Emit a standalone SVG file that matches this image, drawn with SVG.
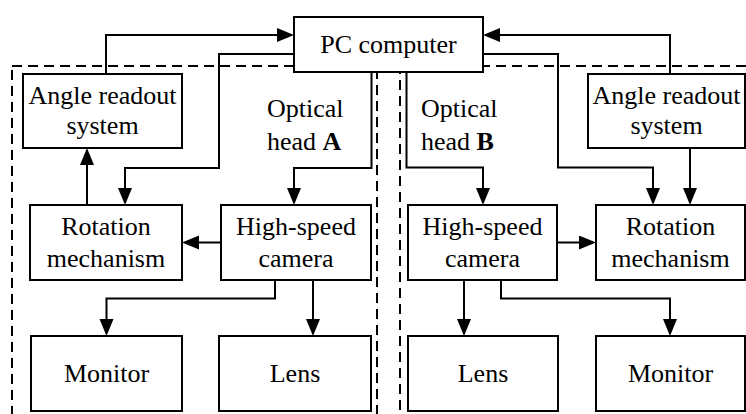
<svg xmlns="http://www.w3.org/2000/svg" width="746" height="414" viewBox="0 0 746 414">
<style>
.bg{fill:#fff}
.dash{fill:none;stroke:#000;stroke-width:2;stroke-dasharray:10 6}
.box{fill:#fff;stroke:#000;stroke-width:2}
.ln{fill:none;stroke:#000;stroke-width:2;marker-end:url(#ah)}
text{font-family:'Liberation Serif',serif;font-size:26px;fill:#000}
.c{text-anchor:middle}
</style>
<defs>
<marker id="ah" markerUnits="userSpaceOnUse" markerWidth="18" markerHeight="15" refX="14" refY="7" orient="auto">
<path d="M0,0 L17,7 L0,14 z" fill="#000"/>
</marker>
</defs>
<rect class="bg" x="0" y="0" width="746" height="414"/>
<g id="groups">
<rect class="dash" x="12" y="66" width="365" height="370"/>
<rect class="dash" x="400" y="66" width="370" height="370"/>
</g>
<g id="connectors">
<path class="ln" d="M106,74 V35 H291"/>
<path class="ln" d="M294,54 H219 V168 H125 V202"/>
<path class="ln" d="M371.5,72 V168 H294 V202"/>
<path class="ln" d="M87,205 V151"/>
<path class="ln" d="M221,242.5 H185"/>
<path class="ln" d="M275,280 V298.5 H106.5 V333"/>
<path class="ln" d="M313,280 V333"/>
<path class="ln" d="M670,74 V35 H486"/>
<path class="ln" d="M483,54 H558 V167.5 H653 V202"/>
<path class="ln" d="M406.5,72 V167.5 H483 V202"/>
<path class="ln" d="M690,148 V202"/>
<path class="ln" d="M557,242.5 H593"/>
<path class="ln" d="M464,280 V333"/>
<path class="ln" d="M501,280 V298.5 H670 V333"/>
</g>
<g font-family="Liberation Serif, serif" font-size="26">
<g id="pc"><rect class="box" x="294" y="17" width="189" height="55"/><text class="c" x="388.5" y="53">PC computer</text></g>
<g id="angleA"><rect class="box" x="23" y="74" width="159" height="74"/><text class="c" x="102.5" y="104">Angle readout</text><text class="c" x="102.5" y="134">system</text></g>
<g id="rotA"><rect class="box" x="30" y="205" width="152" height="75"/><text class="c" x="106" y="235">Rotation</text><text class="c" x="106" y="267">mechanism</text></g>
<g id="camA"><rect class="box" x="221" y="205" width="150" height="75"/><text class="c" x="296" y="235">High-speed</text><text class="c" x="296" y="267">camera</text></g>
<g id="monA"><rect class="box" x="31" y="336" width="151" height="75"/><text class="c" x="106.5" y="382">Monitor</text></g>
<g id="lensA"><rect class="box" x="219" y="336" width="152" height="75"/><text class="c" x="295" y="382">Lens</text></g>
<g id="headA"><text x="267" y="117">Optical</text><text x="267" y="150">head <tspan font-weight="bold">A</tspan></text></g>
<g id="angleB"><rect class="box" x="588" y="74" width="157" height="74"/><text class="c" x="666.5" y="104">Angle readout</text><text class="c" x="666.5" y="134">system</text></g>
<g id="camB"><rect class="box" x="408" y="205" width="149" height="75"/><text class="c" x="482.5" y="235">High-speed</text><text class="c" x="482.5" y="267">camera</text></g>
<g id="rotB"><rect class="box" x="596" y="205" width="149" height="75"/><text class="c" x="670.5" y="235">Rotation</text><text class="c" x="670.5" y="267">mechanism</text></g>
<g id="lensB"><rect class="box" x="408" y="336" width="150" height="75"/><text class="c" x="483" y="382">Lens</text></g>
<g id="monB"><rect class="box" x="596" y="336" width="149" height="75"/><text class="c" x="670.5" y="382">Monitor</text></g>
<g id="headB"><text x="421" y="117">Optical</text><text x="421" y="150">head <tspan font-weight="bold">B</tspan></text></g>
</g>
</svg>
